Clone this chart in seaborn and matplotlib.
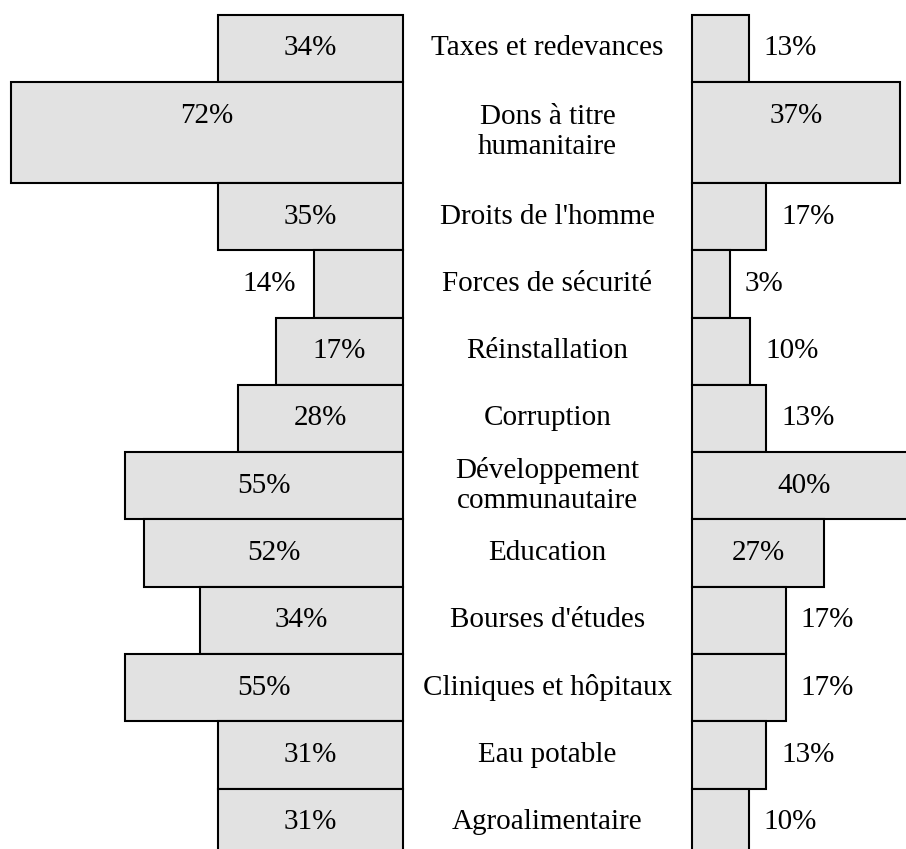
import numpy as np
import matplotlib
matplotlib.use("Agg")
import matplotlib.pyplot as plt
import matplotlib.transforms as mtransforms
import seaborn as sns

# Données
categories = ["Taxes et redevances", "Dons à titre\nhumanitaire", "Droits de l'homme",
              "Forces de sécurité", "Réinstallation", "Corruption",
              "Développement\ncommunautaire", "Education", "Bourses d'études",
              "Cliniques et hôpitaux", "Eau potable", "Agroalimentaire"]
# longueur des barres
gauche_barres = [33.9, 72.0, 33.9, 16.3, 23.4, 30.4, 51.1, 47.6, 37.3, 51.1, 33.9, 33.9]
droite_barres = [10.4, 38.2, 13.6, 6.9, 10.6, 13.6, 41.0, 24.2, 17.2, 17.2, 13.6, 10.4]
# étiquettes affichées
gauche_pct = [34, 72, 35, 14, 17, 28, 55, 52, 34, 55, 31, 31]
droite_pct = [13, 37, 17, 3, 10, 13, 40, 27, 17, 17, 13, 10]
# hauteur des lignes
hauteurs = [1, 1.5, 1, 1, 1, 1, 1, 1, 1, 1, 1, 1]

sns.set_style("white")
plt.rcParams["font.family"] = ["Liberation Serif", "DejaVu Serif"]
plt.rcParams["text.color"] = "black"

W, H = 906, 849
fig = plt.figure(figsize=(W / 100, H / 100), dpi=100)
ax_g = fig.add_axes([0, 0, 403 / W, 1])
ax_d = fig.add_axes([692 / W, 0, 214 / W, 1])

hauts = np.concatenate([[0], np.cumsum(hauteurs)[:-1]])
centres = hauts + np.array(hauteurs) / 2

gris = "#e2e2e2"
fs = 21

for ax, vals in [(ax_g, gauche_barres), (ax_d, droite_barres)]:
    sns.barplot(x=vals, y=centres, orient="y", native_scale=True, color=gris,
                saturation=1, edgecolor="black", linewidth=1.5, errorbar=None, ax=ax)
    patches = sorted(ax.patches, key=lambda p: p.get_y())
    for p, top, h in zip(patches, hauts, hauteurs):
        p.set_y(top)
        p.set_height(h)
        p.set_facecolor(gris)
        p.set_clip_on(False)
    ax.set_ylim(12.397, -0.2184)
    ax.axis("off")

ax_g.set_xlim(74.03, 0)
ax_d.set_xlim(0, 39.3)

seuil = 20
for i in range(len(categories)):
    y = hauts[i] + 0.5
    v = gauche_barres[i]
    if v >= seuil:
        ax_g.text(v / 2, y, f"{gauche_pct[i]}%", ha="center", va="center", fontsize=fs)
    else:
        ax_g.text(v + 3.4, y, f"{gauche_pct[i]}%", ha="right", va="center", fontsize=fs)
    v = droite_barres[i]
    if v >= seuil:
        ax_d.text(v / 2, y, f"{droite_pct[i]}%", ha="center", va="center", fontsize=fs)
    else:
        ax_d.text(v + 2.8, y, f"{droite_pct[i]}%", ha="left", va="center", fontsize=fs)

trans = mtransforms.blended_transform_factory(fig.transFigure, ax_g.transData)
for i, cat in enumerate(categories):
    fig.text(547.5 / W, centres[i], cat, transform=trans, ha="center", va="center",
             fontsize=fs, linespacing=1.2)

fig.savefig("out.png", dpi=100)
